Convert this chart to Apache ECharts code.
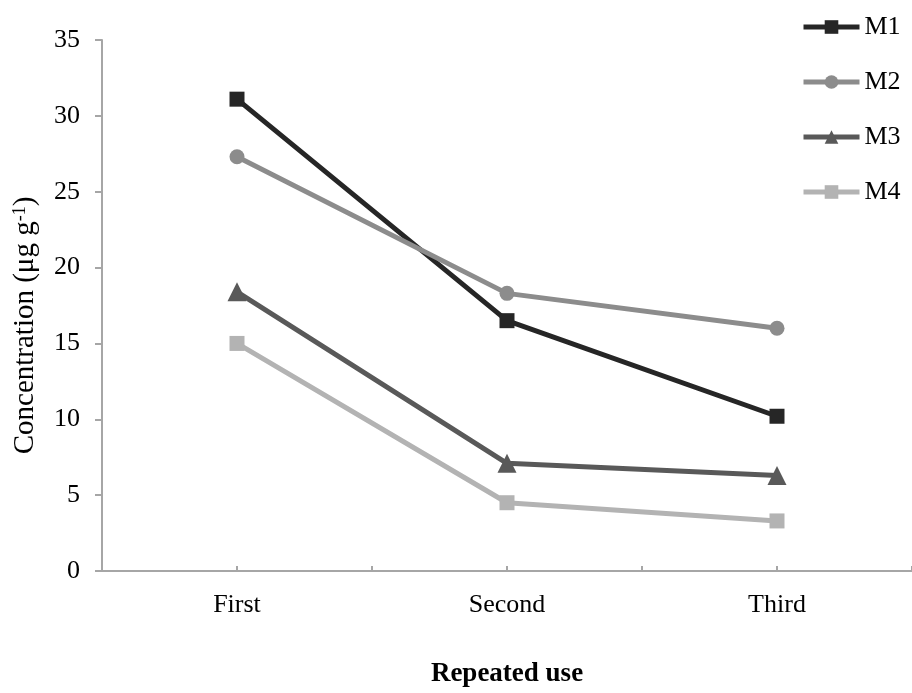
<!DOCTYPE html>
<html>
<head>
<meta charset="utf-8">
<script src="https://cdn.jsdelivr.net/npm/echarts@6/dist/echarts.min.js"></script>
<style>
html,body{margin:0;padding:0;background:#fff;}
#chart{width:912px;height:693px;}
</style>
</head>
<body>
<div id="chart"></div>
<script>
var categories = ['First', 'Second', 'Third'];
var seriesNames = ['M1', 'M2', 'M3', 'M4'];
var m1 = [31.1, 16.5, 10.2];
var m2 = [27.3, 18.3, 16.0];
var m3 = [18.4, 7.1, 6.3];
var m4 = [15.0, 4.5, 3.3];
var yTicks = [0, 5, 10, 15, 20, 25, 30, 35];
var xTitle = 'Repeated use';

var FONT = "'Liberation Serif', 'Times New Roman', serif";
var colors = ['#262626', '#8c8c8c', '#595959', '#b3b3b3'];
var symbols = ['rect', 'circle', 'triangle', 'rect'];
var sizes = [15, 15, 19, 15];
var values = [m1, m2, m3, m4];

var chart = echarts.init(document.getElementById('chart'), null, {renderer: 'canvas'});

var series = seriesNames.map(function (n, i) {
  return {
    name: n,
    type: 'line',
    xAxisIndex: 0,
    data: values[i],
    symbol: symbols[i],
    symbolSize: sizes[i],
    showAllSymbol: true,
    lineStyle: {color: colors[i], width: 5},
    itemStyle: {color: colors[i]},
    emphasis: {disabled: true},
    animation: false
  };
});

chart.setOption({
  backgroundColor: '#ffffff',
  animation: false,
  textStyle: {fontFamily: FONT},
  grid: {left: 102, top: 40, right: -7, bottom: 113},
  legend: {
    orient: 'vertical',
    left: 796,
    top: 9,
    itemWidth: 56,
    itemHeight: 17,
    itemGap: 29,
    data: seriesNames,
    lineStyle: {width: 5},
    textStyle: {fontFamily: FONT, fontSize: 26, color: '#000', lineHeight: 26}
  },
  xAxis: [{
    type: 'category',
    data: categories,
    position: 'bottom',
    boundaryGap: true,
    axisLine: {lineStyle: {color: '#a6a6a6', width: 2}},
    axisTick: {show: true, inside: true, length: 5, lineStyle: {color: '#a6a6a6', width: 2}},
    axisLabel: {fontFamily: FONT, fontSize: 26, color: '#000', margin: 21},
    name: xTitle,
    nameLocation: 'middle',
    nameGap: 90,
    nameTextStyle: {fontFamily: FONT, fontSize: 27, fontWeight: 'bold', color: '#000'},
    splitLine: {show: false}
  }, {
    type: 'category',
    data: categories,
    position: 'bottom',
    boundaryGap: true,
    axisLine: {show: false},
    axisTick: {show: true, inside: true, alignWithLabel: true, length: 5, lineStyle: {color: '#a6a6a6', width: 2}},
    axisLabel: {show: false},
    splitLine: {show: false}
  }],
  yAxis: {
    type: 'value',
    min: yTicks[0],
    max: yTicks[yTicks.length - 1],
    interval: yTicks[1] - yTicks[0],
    axisLine: {show: true, lineStyle: {color: '#a6a6a6', width: 2}},
    axisTick: {show: true, inside: false, length: 7, lineStyle: {color: '#a6a6a6', width: 2}},
    axisLabel: {fontFamily: FONT, fontSize: 26, color: '#000', margin: 22},
    splitLine: {show: false},
    name: '{a|Concentration (μg g}{s|-1}{a|)}',
    nameLocation: 'middle',
    nameGap: 62,
    nameRotate: 90,
    nameTextStyle: {
      fontFamily: FONT, fontSize: 29, color: '#000',
      padding: [0, 40, 0, 0],
      rich: {
        a: {fontFamily: FONT, fontSize: 29, color: '#000'},
        s: {fontFamily: FONT, fontSize: 18, color: '#000', verticalAlign: 'top', padding: [0, 0, 8, 0]}
      }
    }
  },
  series: series
});
</script>
</body>
</html>
